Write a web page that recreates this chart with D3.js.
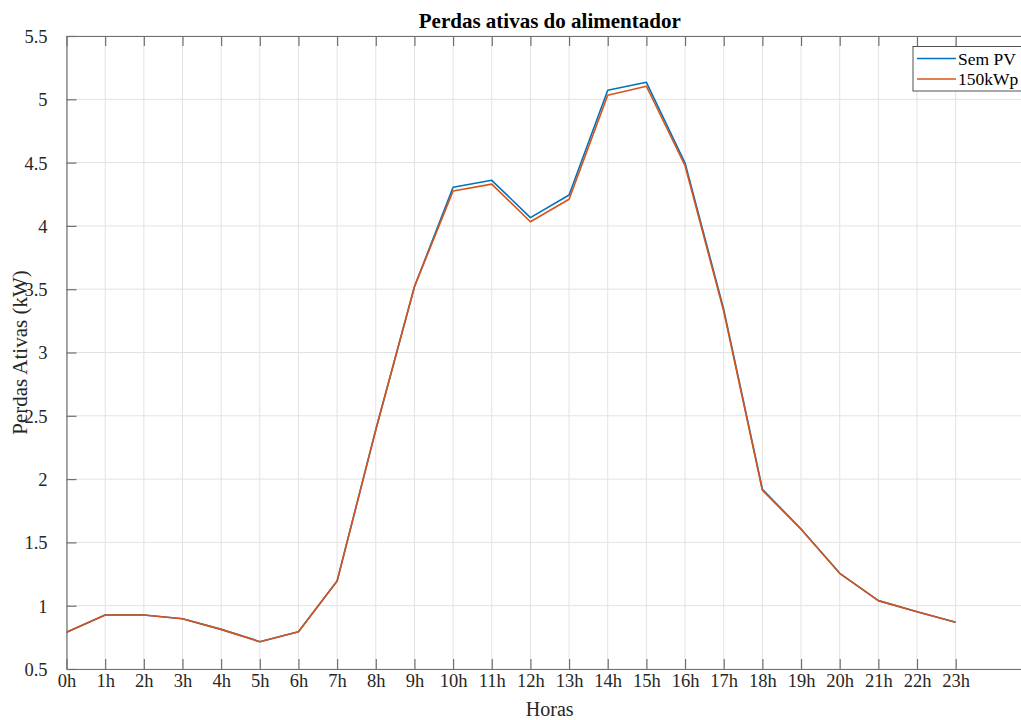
<!DOCTYPE html>
<html>
<head>
<meta charset="utf-8">
<script src="https://cdn.jsdelivr.net/npm/d3@7"></script>
<style>
  body { margin: 0; background: #fff; }
  svg, svg text { font-family: "Liberation Serif", "Times New Roman", serif; }
  svg { display: block; }
</style>
</head>
<body>
<div id="grafico"></div>
<script>
// dados
const horas = d3.range(0, 24);
const rotulosX = horas.map(h => h + "h");
const semPV = [0.79, 0.927, 0.927, 0.897, 0.813, 0.716, 0.795, 1.195, 2.39, 3.52,
  4.305, 4.36, 4.065, 4.244, 5.071, 5.134, 4.497, 3.34, 1.92, 1.606,
  1.256, 1.04, 0.953, 0.869];
const pv150 = [0.79, 0.927, 0.927, 0.897, 0.813, 0.716, 0.795, 1.195, 2.39, 3.52,
  4.276, 4.33, 4.033, 4.21, 5.032, 5.103, 4.475, 3.325, 1.912, 1.604,
  1.256, 1.04, 0.953, 0.869];
const ticksY = [0.5, 1, 1.5, 2, 2.5, 3, 3.5, 4, 4.5, 5, 5.5];
const series = [
  { nome: "Sem PV", valores: semPV, cor: "#0072BD" },
  { nome: "150kWp", valores: pv150, cor: "#D95319" }
];

const W = 1021, H = 720;
const margem = { left: 66.5, right: 1033, top: 36, bottom: 669 };

const svg = d3.select("#grafico").append("svg")
  .attr("width", W)
  .attr("height", H);

const x = d3.scaleLinear().domain([0, 25]).range([margem.left, margem.right]);
const y = d3.scaleLinear().domain([0.5, 5.5]).range([margem.bottom, margem.top]);

// grade
svg.append("g").selectAll("line").data(horas).enter().append("line")
  .attr("x1", d => x(d)).attr("x2", d => x(d))
  .attr("y1", margem.top).attr("y2", margem.bottom)
  .attr("stroke", "#e3e3e3").attr("stroke-width", 1);
svg.append("g").selectAll("line").data(ticksY).enter().append("line")
  .attr("x1", margem.left).attr("x2", margem.right)
  .attr("y1", d => y(d)).attr("y2", d => y(d))
  .attr("stroke", "#e3e3e3").attr("stroke-width", 1);

// eixos (ticks para dentro, como no MATLAB)
const eixoX = svg.append("g")
  .attr("transform", "translate(0," + margem.bottom + ")")
  .call(d3.axisBottom(x).tickValues(horas).tickFormat((d, i) => rotulosX[i])
    .tickSizeInner(-10).tickSizeOuter(0).tickPadding(14));
const eixoXTopo = svg.append("g")
  .attr("transform", "translate(0," + margem.top + ")")
  .call(d3.axisTop(x).tickValues(horas).tickFormat("")
    .tickSizeInner(-10).tickSizeOuter(0));
const eixoY = svg.append("g")
  .attr("transform", "translate(" + margem.left + ",0)")
  .call(d3.axisLeft(y).tickValues(ticksY).tickFormat(d3.format(""))
    .tickSizeInner(-10).tickSizeOuter(0).tickPadding(19));
const eixoYDir = svg.append("g")
  .attr("transform", "translate(" + margem.right + ",0)")
  .call(d3.axisRight(y).tickValues(ticksY).tickFormat("")
    .tickSizeInner(-10).tickSizeOuter(0));

[eixoX, eixoXTopo, eixoY, eixoYDir].forEach(g => {
  g.attr("font-family", "Liberation Serif").attr("font-size", 18.5);
  g.select(".domain").attr("stroke", "#707070").attr("stroke-width", 1.2);
  g.selectAll(".tick line").attr("stroke", "#707070").attr("stroke-width", 1.2);
  g.selectAll("text").attr("fill", "#262626");
});
eixoX.selectAll("text").attr("dy", "0.2em");
eixoY.selectAll("text").attr("dy", "0.35em");

// linhas
const linha = d3.line().x((d, i) => x(horas[i])).y(d => y(d));
svg.append("g").selectAll("path").data(series).enter().append("path")
  .attr("d", d => linha(d.valores))
  .attr("fill", "none")
  .attr("stroke", d => d.cor)
  .attr("stroke-width", 1.6)
  .attr("stroke-linejoin", "round");

// titulo e rotulos
svg.append("text")
  .attr("x", (margem.left + margem.right) / 2).attr("y", 28)
  .attr("text-anchor", "middle")
  .attr("font-size", 21).attr("font-weight", "bold").attr("fill", "#000")
  .text("Perdas ativas do alimentador");
svg.append("text")
  .attr("x", (margem.left + margem.right) / 2).attr("y", 716)
  .attr("text-anchor", "middle")
  .attr("font-size", 20).attr("fill", "#262626")
  .text("Horas");
svg.append("text")
  .attr("transform", "translate(27," + ((margem.top + margem.bottom) / 2) + ") rotate(-90)")
  .attr("text-anchor", "middle")
  .attr("font-size", 21).attr("fill", "#262626")
  .text("Perdas Ativas (kW)");

// legenda
const leg = svg.append("g").attr("transform", "translate(913,46.5)");
leg.append("rect")
  .attr("width", 120).attr("height", 44.5)
  .attr("fill", "#fff").attr("stroke", "#262626").attr("stroke-width", 0.8);
series.forEach((s, i) => {
  const yy = 12 + i * 20.5;
  leg.append("line")
    .attr("x1", 4).attr("x2", 43).attr("y1", yy).attr("y2", yy)
    .attr("stroke", s.cor).attr("stroke-width", 1.6);
  leg.append("text")
    .attr("x", 45).attr("y", yy).attr("dy", "0.35em")
    .attr("font-size", 17.5).attr("fill", "#000")
    .text(s.nome);
});
</script>
</body>
</html>
